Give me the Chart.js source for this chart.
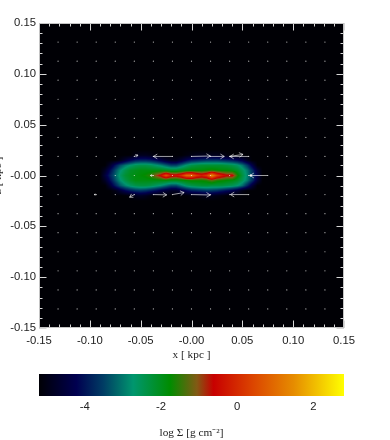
<!DOCTYPE html>
<html><head><meta charset="utf-8">
<style>html,body{margin:0;padding:0;background:#fff;overflow:hidden;width:390px;height:440px}
canvas{position:absolute}</style>
<script src="https://cdn.jsdelivr.net/npm/chart.js@4/dist/chart.umd.min.js"></script>
</head><body>
<canvas id="main" width="410" height="362" style="left:-20px;top:0"></canvas>
<canvas id="bar" width="390" height="80" style="left:0;top:360px"></canvas>
<script>
// Column and row positions of the density map (kpc)
const gridX=[-0.09,-0.085,-0.08,-0.075,-0.07,-0.065,-0.06,-0.055,-0.05,-0.045,-0.04,-0.035,-0.03,-0.025,-0.02,-0.015,-0.01,-0.005,0,0.005,0.01,0.015,0.02,0.025,0.03,0.035,0.04,0.045,0.05,0.055,0.06,0.065,0.07];
const gridZ=[0.025,0.02,0.015,0.01,0.005,0,-0.005,-0.01,-0.015,-0.02,-0.025];
// log surface density, one row per gridZ value
const rowP25=[-5.2,-5.2,-5.2,-5.2,-5.2,-5.2,-5.2,-5.2,-5.2,-5.2,-5.2,-5.2,-5.2,-5.2,-5.2,-5.2,-5.2,-5.2,-5.2,-5.2,-5.2,-5.2,-5.2,-5.2,-5.2,-5.2,-5.2,-5.2,-5.2,-5.2,-5.2,-5.2,-5.2];
const rowP20=[-5.2,-5.2,-5.2,-5.2,-5.2,-5.2,-5.2,-5.0,-4.9,-4.9,-5.0,-5.1,-5.2,-5.2,-5.2,-5.2,-5.2,-5.1,-5.0,-4.9,-4.9,-4.9,-4.9,-4.9,-5.0,-5.1,-5.2,-5.2,-5.2,-5.2,-5.2,-5.2,-5.2];
const rowP15=[-5.2,-5.2,-5.2,-5.2,-5.0,-4.6,-4.2,-3.9,-3.8,-3.8,-3.9,-4.1,-4.4,-4.7,-4.9,-4.9,-4.6,-4.2,-3.9,-3.8,-3.7,-3.6,-3.6,-3.6,-3.7,-3.8,-3.9,-4.1,-4.4,-4.9,-5.2,-5.2,-5.2];
const rowP10=[-5.2,-5.2,-4.7,-4.0,-3.4,-3.0,-2.7,-2.5,-2.4,-2.4,-2.5,-2.7,-2.9,-3.2,-3.5,-3.5,-3.1,-2.7,-2.4,-2.3,-2.2,-2.2,-2.2,-2.2,-2.2,-2.3,-2.4,-2.6,-3.0,-3.6,-4.4,-5.2,-5.2];
const rowP05=[-5.2,-4.8,-4.1,-3.4,-2.8,-2.4,-2.1,-2.0,-1.9,-1.9,-1.9,-1.9,-1.9,-2.0,-2.1,-2.1,-2.0,-1.9,-1.8,-1.8,-1.8,-1.7,-1.6,-1.7,-1.8,-1.8,-1.9,-2.1,-2.5,-3.0,-3.7,-4.6,-5.2];
const rowZ00=[-5.2,-4.5,-3.8,-3.2,-2.6,-2.2,-2.0,-1.9,-1.8,-1.7,-1.5,-1.0,-0.5,0.6,-0.3,-0.4,0.0,0.9,1.0,0.2,-0.2,0.2,1.5,0.3,-0.2,-0.6,-0.5,-1.6,-2.3,-2.9,-3.6,-4.4,-5.2];
const rowM05=[-5.2,-4.8,-4.1,-3.4,-2.8,-2.4,-2.1,-1.9,-1.9,-1.9,-1.9,-1.9,-1.9,-1.9,-2.0,-2.0,-1.9,-1.8,-1.7,-1.7,-1.7,-1.6,-1.3,-1.6,-1.7,-1.8,-1.9,-2.1,-2.5,-3.0,-3.7,-4.6,-5.2];
const rowM10=[-5.2,-5.2,-4.6,-3.9,-3.3,-2.9,-2.6,-2.4,-2.3,-2.3,-2.4,-2.6,-2.8,-3.1,-3.4,-3.4,-3.0,-2.6,-2.4,-2.3,-2.2,-2.2,-2.3,-2.3,-2.3,-2.4,-2.5,-2.7,-3.1,-3.8,-4.6,-5.2,-5.2];
const rowM15=[-5.2,-5.2,-5.2,-5.0,-4.6,-4.2,-3.9,-3.7,-3.6,-3.7,-3.9,-4.1,-4.4,-4.6,-4.8,-4.8,-4.5,-4.2,-3.9,-3.8,-3.7,-3.6,-3.6,-3.7,-3.9,-4.1,-4.3,-4.6,-5.0,-5.2,-5.2,-5.2,-5.2];
const rowM20=[-5.2,-5.2,-5.2,-5.2,-5.2,-5.2,-5.1,-4.9,-4.8,-4.9,-5.1,-5.2,-5.2,-5.2,-5.2,-5.2,-5.2,-5.2,-5.1,-5.1,-5.0,-4.9,-4.9,-5.0,-5.1,-5.2,-5.2,-5.2,-5.2,-5.2,-5.2,-5.2,-5.2];
const rowM25=rowP25;
// Velocity-field lattice (kpc)
const latticeX=[-0.13125,-0.1125,-0.09375,-0.075,-0.05625,-0.0375,-0.01875,0,0.01875,0.0375,0.05625,0.075,0.09375,0.1125,0.13125];
const latticeZ=[0.13125,0.1125,0.09375,0.075,0.05625,0.0375,0.01875,0,-0.01875,-0.0375,-0.05625,-0.075,-0.09375,-0.1125,-0.13125];
// Velocity arrows: tail position and tail-to-tip vector (kpc)
const arrowX=[-0.01875,0,0.01875,0.0375,0.05625,-0.05625,-0.0375,-0.01875,0,0.05625,-0.05625,-0.09375,0.075,0.05625,-0.0375];
const arrowZ=[0.01875,0.01875,0.01875,0.01875,0.01875,0.01875,-0.01875,-0.01875,-0.01875,-0.01875,-0.01875,-0.01875,0,0,0];
const arrowU=[-0.0187,0.0185,0.0135,0.0132,-0.0185,0.0036,0.0131,0.0115,0.0185,-0.018,-0.0046,-0.002,-0.0175,0.003,-0.003];
const arrowW=[0,0.0004,0,0.002,0,0.0013,-0.0003,0.002,-0.0004,0,-0.0026,0,0,0,0];
// Axis and colour-bar text
const majorTickValues=[-0.15,-0.10,-0.05,0,0.05,0.10,0.15];
const majorTickLabels=['-0.15','-0.10','-0.05','-0.00','0.05','0.10','0.15'];
const barTicks=[-4,-2,0,2];
// Colour map
const cmapValues=[-5.2,-4.22,-3.52,-2.73,-1.76,-1.06,-0.62,0.43,1.48,2.8];
const cmapColors=[[0,0,5],[0,0,80],[0,60,100],[0,150,110],[0,140,0],[130,90,20],[200,0,0],[220,70,0],[230,140,0],[255,255,0]];
const barRange=[-5.2,2.8];

const densityRows=[rowP25,rowP20,rowP15,rowP10,rowP05,rowZ00,rowM05,rowM10,rowM15,rowM20,rowM25];
function cmap(v){
  if(v<=cmapValues[0])return cmapColors[0];
  for(let i=1;i<cmapValues.length;i++){
    if(v<=cmapValues[i]){const t=(v-cmapValues[i-1])/(cmapValues[i]-cmapValues[i-1]);
      return cmapColors[i].map((c,k)=>cmapColors[i-1][k]+(c-cmapColors[i-1][k])*t);}
  }
  return cmapColors[cmapColors.length-1];
}
function sample(x,z){
  const dx=gridX[1]-gridX[0],dz=gridZ[0]-gridZ[1];
  const fx=(x-gridX[0])/dx,fz=(gridZ[0]-z)/dz;
  if(fx<0||fz<0||fx>gridX.length-1||fz>gridZ.length-1)return -5.2;
  const i=Math.min(Math.floor(fx),gridX.length-2),j=Math.min(Math.floor(fz),gridZ.length-2);
  const a=fx-i,b=fz-j;
  return densityRows[j][i]*(1-a)*(1-b)+densityRows[j][i+1]*a*(1-b)+densityRows[j+1][i]*(1-a)*b+densityRows[j+1][i+1]*a*b;
}
const fieldPlugin={id:'field',
  beforeDatasetsDraw(chart){
    const {ctx,chartArea:A,scales:{x,y}}=chart;
    ctx.save();ctx.fillStyle='rgb('+cmapColors[0]+')';ctx.fillRect(A.left,A.top,A.right-A.left,A.bottom-A.top);
    const x0=Math.floor(x.getPixelForValue(gridX[0])),x1=Math.ceil(x.getPixelForValue(gridX[gridX.length-1]));
    const y0=Math.floor(y.getPixelForValue(gridZ[0])),y1=Math.ceil(y.getPixelForValue(gridZ[gridZ.length-1]));
    const img=ctx.createImageData(x1-x0,y1-y0);
    for(let py=y0;py<y1;py++)for(let px=x0;px<x1;px++){
      const c=cmap(sample(x.getValueForPixel(px+.5),y.getValueForPixel(py+.5)));
      const o=((py-y0)*(x1-x0)+(px-x0))*4;
      img.data[o]=c[0];img.data[o+1]=c[1];img.data[o+2]=c[2];img.data[o+3]=255;
    }
    const off=document.createElement('canvas');off.width=x1-x0;off.height=y1-y0;
    off.getContext('2d').putImageData(img,0,0);
    ctx.drawImage(off,x0,y0);ctx.restore();
  },
  afterDatasetsDraw(chart){
    const {ctx,chartArea:A,scales:{x,y}}=chart;
    ctx.save();
    // velocity arrows
    ctx.strokeStyle='rgba(255,255,255,0.62)';ctx.lineWidth=1;
    arrowX.forEach((ax,i)=>{
      const p0=[x.getPixelForValue(ax),y.getPixelForValue(arrowZ[i])];
      const p1=[x.getPixelForValue(ax+arrowU[i]),y.getPixelForValue(arrowZ[i]+arrowW[i])];
      const len=Math.hypot(p1[0]-p0[0],p1[1]-p0[1]),ang=Math.atan2(p1[1]-p0[1],p1[0]-p0[0]);
      const h=Math.min(4.5,len*.7);
      ctx.beginPath();ctx.moveTo(p0[0],p0[1]);ctx.lineTo(p1[0],p1[1]);
      ctx.moveTo(p1[0]-h*Math.cos(ang-.55),p1[1]-h*Math.sin(ang-.55));ctx.lineTo(p1[0],p1[1]);
      ctx.lineTo(p1[0]-h*Math.cos(ang+.55),p1[1]-h*Math.sin(ang+.55));ctx.stroke();
    });
    // inward ticks on all four sides
    ctx.strokeStyle='#d8d8d8';ctx.lineWidth=1;ctx.beginPath();
    const isMajor=v=>Math.round(Math.abs(v)*100)%5===0;
    x.ticks.forEach(t=>{const p=Math.round(x.getPixelForValue(t.value))+.5,l=isMajor(t.value)?7.5:3.5;
      ctx.moveTo(p,A.top);ctx.lineTo(p,A.top+l);ctx.moveTo(p,A.bottom);ctx.lineTo(p,A.bottom-l);});
    y.ticks.forEach(t=>{const p=Math.round(y.getPixelForValue(t.value))+.5,l=isMajor(t.value)?7.5:3.5;
      ctx.moveTo(A.left,p);ctx.lineTo(A.left+l,p);ctx.moveTo(A.right,p);ctx.lineTo(A.right-l,p);});
    ctx.stroke();
    ctx.strokeStyle='#c4c4c4';ctx.strokeRect(A.left+.5,A.top+.5,A.right-A.left-1,A.bottom-A.top-1);
    ctx.restore();
  }
};
const tickFont={family:'"Liberation Sans"',size:11.3};
const titleFont={family:'"Liberation Serif"',size:11.3};
const labelFor=v=>{const i=majorTickValues.findIndex(m=>Math.abs(m-v)<1e-6);return i<0?'':majorTickLabels[i];};
const latticePoints=[];latticeZ.forEach(z=>latticeX.forEach(x=>latticePoints.push({x:x,y:z})));
new Chart(document.getElementById('main'),{
  type:'scatter',
  data:{datasets:[{label:'velocity lattice',data:latticePoints,pointRadius:0.6,pointBorderWidth:0,pointBackgroundColor:'rgba(255,255,255,0.75)'}]},
  options:{responsive:false,animation:false,events:[],
    layout:{padding:{top:23,right:46,left:0,bottom:0}},
    plugins:{legend:{display:false},tooltip:{enabled:false}},
    scales:{
      x:{type:'linear',min:-0.15,max:0.15,grid:{display:false,drawTicks:false},border:{display:false},
        ticks:{stepSize:0.01,autoSkip:false,maxRotation:0,font:tickFont,color:'#222',padding:6,callback:labelFor},
        title:{display:true,text:'x [ kpc ]',font:titleFont,color:'#222',padding:{top:1,bottom:0}},
        afterFit(s){s.height=34;}},
      y:{type:'linear',min:-0.15,max:0.15,grid:{display:false,drawTicks:false},border:{display:false},
        ticks:{stepSize:0.01,autoSkip:false,font:tickFont,color:'#222',padding:3,callback:labelFor},
        title:{display:true,text:'z [ kpc ]',font:titleFont,color:'#222',padding:{top:11,bottom:0}},
        afterFit(s){s.width=59;}}
    }
  },
  plugins:[fieldPlugin]
});
new Chart(document.getElementById('bar'),{
  type:'bar',
  data:{labels:['log Σ'],datasets:[{data:[barRange],barPercentage:1,categoryPercentage:1,borderSkipped:false,
    backgroundColor(c){
      const a=c.chart.chartArea,s=c.chart.scales.x;if(!a||!s)return '#000';
      const g=c.chart.ctx.createLinearGradient(s.getPixelForValue(barRange[0]),0,s.getPixelForValue(barRange[1]),0);
      cmapValues.forEach((v,i)=>g.addColorStop((v-barRange[0])/(barRange[1]-barRange[0]),'rgb('+cmapColors[i].join(',')+')'));
      return g;}}]},
  options:{indexAxis:'y',responsive:false,animation:false,events:[],
    layout:{padding:{left:39,right:46,top:14,bottom:0}},
    plugins:{legend:{display:false},tooltip:{enabled:false}},
    scales:{
      y:{type:'category',display:false},
      x:{type:'linear',min:barRange[0],max:barRange[1],grid:{display:false,drawTicks:false},border:{display:false},
        afterBuildTicks(s){s.ticks=barTicks.map(v=>({value:v}));},
        ticks:{autoSkip:false,maxRotation:0,font:tickFont,color:'#222',padding:4},
        title:{display:true,text:'log Σ [g cm⁻²]',font:titleFont,color:'#222',padding:{top:1,bottom:0}},
        afterFit(s){s.height=44;}}
    }
  }
});
</script>
</body></html>
